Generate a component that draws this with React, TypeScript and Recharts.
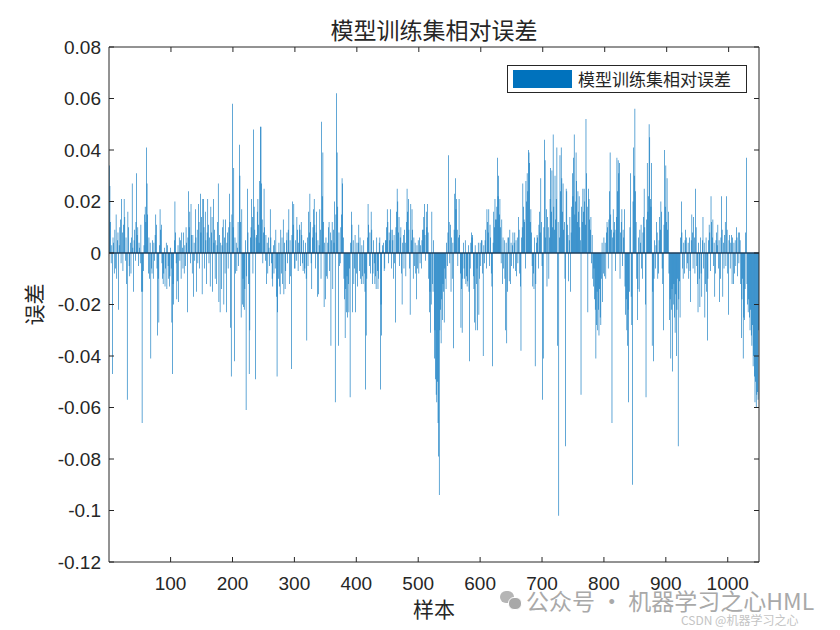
import React from "react";
import {
  BarChart,
  Bar,
  XAxis,
  YAxis,
  Legend,
  ReferenceLine,
} from "recharts";

// relative error of the training set, sample 1..1050
const relErr = [
  // 1-50
  0.034, 0.026, 0.012, -0.004, 0.003, -0.047, 0.006, 0.004, -0.008, 0.009,
  -0.006, 0.015, -0.01, 0.005, 0.008, -0.022, 0.003, 0.01, 0.013, -0.004,
  0.021, 0.008, -0.007, 0.011, 0.021, 0.014, -0.003, 0.006, -0.012, -0.057,
  0.016, 0.01, -0.005, -0.009, 0.004, -0.008, 0.006, 0.027, 0.002, -0.015,
  0.005, 0.009, -0.003, 0.012, 0.031, 0.007, 0.01, -0.005, 0.004, 0.002,
  // 51-100
  -0.004, 0.011, -0.015, -0.066, -0.015, -0.007, 0.003, 0.015, 0.018, 0.012,
  0.041, 0.027, 0.015, -0.008, 0.006, -0.01, 0.004, -0.041, -0.006, -0.008,
  0.005, -0.01, 0.004, -0.003, 0.007, 0.015, 0.011, -0.006, -0.032, -0.01,
  -0.027, 0.003, 0.017, 0.009, 0.011, -0.004, -0.01, -0.012, -0.008, 0.002,
  -0.013, -0.006, 0.004, -0.014, 0.003, -0.005, -0.01, -0.013, -0.009, 0.002,
  // 101-150
  -0.006, -0.027, -0.047, -0.012, -0.02, 0.005, 0.02, 0.008, -0.004, -0.018,
  -0.011, 0.003, -0.019, 0.006, -0.003, 0.005, -0.01, 0.008, 0.002, -0.006,
  0.008, -0.008, 0.003, -0.005, 0.01, 0.004, -0.023, 0.006, 0.024, 0.01,
  0.016, -0.004, 0.019, 0.007, -0.008, 0.007, -0.017, 0.004, -0.003, 0.017,
  0.006, -0.015, 0.009, -0.004, 0.019, 0.012, -0.006, 0.023, 0.008, 0.014,
  // 151-200
  -0.016, 0.021, 0.021, 0.01, -0.006, 0.016, 0.005, -0.012, 0.008, 0.021,
  0.011, -0.004, 0.006, -0.013, 0.018, 0.008, 0.014, -0.015, 0.021, 0.004,
  0.009, -0.01, 0.005, -0.012, 0.003, 0.012, 0.027, -0.019, 0.007, -0.023,
  0.004, -0.014, 0.003, 0.01, 0.013, -0.02, 0.006, -0.008, 0.013, -0.023,
  0.004, 0.008, -0.006, 0.01, 0.023, 0.012, -0.029, -0.048, 0.015, 0.058,
  // 201-250
  0.01, 0.033, -0.042, 0.006, -0.008, 0.004, -0.007, 0.002, 0.012, -0.005,
  0.042, 0.03, 0.012, -0.025, 0.017, -0.02, -0.01, -0.021, -0.022, -0.014,
  0.005, -0.061, -0.009, 0.025, 0.008, -0.012, -0.047, -0.03, 0.006, 0.01,
  0.021, 0.014, -0.008, 0.048, 0.018, 0.009, -0.049, 0.006, 0.007, 0.016,
  0.021, 0.011, 0.004, 0.028, 0.049, 0.049, 0.027, 0.013, -0.004, 0.008,
  // 251-300
  0.025, 0.01, -0.003, 0.007, -0.012, 0.004, -0.008, 0.006, 0.002, -0.005,
  0.017, 0.006, -0.004, -0.01, -0.013, 0.003, -0.008, 0.005, -0.006, 0.009,
  -0.017, -0.048, -0.023, -0.01, 0.004, -0.013, -0.016, 0.009, -0.008, 0.006,
  -0.012, 0.013, -0.016, 0.004, -0.014, -0.007, 0.005, 0.008, -0.004, 0.009,
  0.017, -0.012, 0.005, -0.009, -0.045, 0.007, 0.02, 0.011, 0.019, -0.006,
  // 301-350
  -0.006, 0.005, -0.003, 0.014, 0.009, -0.007, 0.004, 0.011, 0.009, -0.005,
  0.012, 0.007, -0.004, -0.007, 0.005, -0.008, -0.006, 0.004, -0.01, -0.034,
  0.006, -0.005, 0.016, 0.008, 0.023, 0.012, -0.004, -0.014, 0.006, 0.01,
  0.017, 0.021, 0.011, -0.006, 0.008, 0.016, -0.017, 0.005, -0.016, 0.003,
  0.017, 0.009, -0.01, 0.051, 0.022, 0.039, 0.012, -0.021, 0.004, -0.018,
  // 351-400
  0.006, -0.009, -0.01, 0.004, 0.01, 0.012, -0.007, 0.008, -0.036, 0.005,
  0.012, -0.014, 0.009, 0.004, 0.02, -0.058, 0.015, 0.062, 0.039, 0.018,
  -0.036, 0.008, -0.005, -0.004, 0.01, 0.015, 0.029, 0.027, 0.006, -0.01,
  -0.018, -0.033, -0.014, -0.023, -0.009, -0.025, -0.012, -0.023, -0.006, -0.056,
  0.004, 0.016, 0.011, -0.023, 0.005, -0.012, -0.006, 0.007, -0.023, -0.008,
  // 401-450
  0.004, -0.013, 0.004, 0.011, -0.007, 0.006, -0.01, -0.012, 0.003, -0.009,
  -0.012, 0.005, -0.008, -0.015, -0.053, -0.032, -0.01, 0.006, 0.019, 0.011,
  -0.005, 0.008, -0.008, 0.016, 0.009, -0.012, -0.008, 0.005, -0.004, -0.012,
  -0.009, -0.014, 0.006, -0.007, -0.014, -0.01, 0.004, 0.006, -0.053, -0.02,
  -0.032, 0.003, 0.001, 0.004, -0.007, -0.006, 0.005, 0.005, 0.01, 0.017,
  // 451-500
  0.012, -0.004, 0.008, 0.005, 0.017, 0.009, -0.006, 0.009, 0.005, -0.01,
  0.007, -0.004, -0.027, 0.01, 0.016, 0.025, 0.02, 0.008, 0.014, -0.005,
  0.006, 0.01, -0.008, -0.02, 0.004, 0.007, -0.006, 0.009, 0.004, -0.009,
  0.012, 0.025, 0.016, 0.021, 0.009, -0.006, -0.024, 0.019, 0.005, 0.017,
  0.009, -0.01, 0.006, -0.005, 0.004, -0.008, -0.018, 0.003, -0.006, 0.005,
  // 501-550
  -0.008, 0.006, -0.004, 0.003, -0.006, 0.005, 0.009, 0.009, 0.014, 0.019,
  0.007, -0.003, 0.016, 0.01, 0.019, 0.008, -0.01, -0.023, -0.015, -0.031,
  -0.02, 0.016, -0.012, -0.015, 0.005, -0.041, -0.03, -0.049, -0.055, -0.058,
  -0.05, -0.066, -0.079, -0.094, -0.03, -0.022, -0.035, -0.018, -0.026, -0.012,
  -0.015, -0.027, -0.006, -0.01, -0.014, 0.004, -0.005, 0.008, 0.038, 0.012,
  // 551-600
  -0.004, 0.011, -0.015, 0.006, -0.01, 0.004, -0.037, 0.009, 0.023, 0.029,
  0.017, 0.021, 0.009, -0.005, 0.006, 0.021, 0.007, -0.008, -0.029, -0.014,
  -0.031, -0.01, 0.004, -0.006, -0.01, 0.005, -0.012, -0.009, -0.013, -0.011,
  0.003, -0.015, -0.042, -0.006, 0.004, 0.008, 0.006, 0.007, -0.009, -0.014,
  -0.027, 0.003, -0.03, -0.012, -0.006, -0.03, 0.004, -0.024, -0.01, 0.004,
  // 601-650
  -0.005, 0.005, 0.005, -0.008, -0.04, 0.003, -0.004, 0.005, 0.009, -0.006,
  0.017, 0.012, 0.008, 0.017, -0.005, 0.011, 0.006, -0.008, -0.013, -0.044,
  0.004, 0.016, 0.01, 0.021, 0.013, 0.013, 0.018, 0.037, 0.022, 0.03,
  0.015, 0.021, 0.01, -0.004, 0.013, -0.012, 0.006, -0.006, 0.005, -0.01,
  -0.03, 0.004, -0.035, -0.015, 0.006, 0.006, -0.011, 0.009, -0.012, 0.004,
  // 651-700
  -0.005, 0.003, 0.008, -0.006, 0.004, 0.008, -0.007, 0.005, -0.009, 0.006,
  -0.004, 0.014, 0.009, -0.008, -0.013, -0.038, 0.006, 0.01, 0.027, 0.018,
  0.013, 0.012, -0.006, 0.028, 0.02, 0.031, 0.024, 0.04, 0.039, 0.035,
  0.012, 0.017, 0.008, -0.005, -0.013, -0.008, -0.014, 0.006, -0.044, -0.012,
  0.004, 0.007, 0.006, -0.006, 0.011, 0.016, 0.008, 0.029, 0.012, -0.005,
  // 701-750
  -0.057, -0.041, 0.01, 0.044, 0.036, 0.006, 0.017, -0.013, 0.014, 0.01,
  -0.01, 0.006, 0.021, 0.033, 0.016, 0.032, 0.01, 0.046, 0.018, 0.009,
  0.03, 0.013, 0.021, 0.041, -0.036, 0.012, -0.102, 0.006, 0.038, 0.024,
  0.041, 0.029, 0.016, 0.027, 0.009, 0.012, -0.01, -0.075, 0.025, 0.024,
  0.011, 0.007, -0.011, 0.005, 0.014, -0.015, 0.008, 0.018, 0.031, 0.022,
  // 751-800
  0.037, 0.046, 0.015, 0.02, 0.039, 0.028, 0.012, 0.024, 0.016, 0.022,
  0.01, 0.005, -0.055, 0.018, 0.012, 0.025, 0.016, 0.025, 0.02, 0.011,
  0.052, 0.031, 0.018, -0.023, 0.025, 0.021, 0.013, 0.009, 0.014, -0.004,
  0.007, -0.01, -0.013, -0.006, -0.018, -0.022, -0.041, -0.028, -0.015, -0.03,
  -0.022, -0.032, -0.014, -0.025, -0.028, -0.01, 0.004, -0.019, -0.008, 0.006,
  // 801-850
  -0.009, 0.004, -0.01, 0.008, 0.012, 0.01, -0.006, 0.013, 0.024, 0.039,
  0.015, 0.009, -0.066, 0.006, 0.017, 0.008, 0.012, 0.009, -0.007, 0.014,
  0.037, 0.024, 0.036, 0.031, 0.035, -0.01, 0.008, 0.012, 0.017, -0.005,
  0.009, 0.006, 0.017, -0.013, -0.024, -0.018, -0.03, -0.036, -0.022, -0.058,
  -0.015, 0.01, 0.031, -0.017, -0.028, -0.09, 0.02, 0.041, 0.03, 0.056,
  // 851-900
  0.024, 0.012, -0.01, -0.026, -0.014, 0.006, -0.015, 0.009, 0.004, 0.011,
  -0.006, -0.01, 0.008, 0.014, 0.025, 0.01, -0.02, -0.056, 0.013, 0.035,
  0.016, 0.022, 0.05, 0.045, 0.021, 0.018, 0.035, -0.036, -0.015, -0.042,
  -0.01, 0.005, -0.006, 0.003, 0.012, 0.008, -0.01, -0.008, 0.005, 0.014,
  0.009, 0.02, 0.016, -0.006, -0.012, -0.03, 0.011, 0.04, 0.018, 0.034,
  // 901-950
  0.012, 0.029, 0.009, 0.016, -0.008, -0.026, -0.018, -0.041, -0.022, -0.014,
  -0.046, -0.02, -0.012, -0.025, -0.031, -0.016, -0.04, -0.022, -0.01, -0.075,
  -0.018, -0.011, -0.025, 0.006, 0.02, 0.008, -0.006, -0.01, 0.004, -0.008,
  0.005, 0.009, 0.006, -0.006, -0.004, 0.004, -0.01, 0.006, -0.007, -0.019,
  0.005, 0.015, 0.008, -0.006, 0.014, 0.006, -0.008, 0.025, 0.01, -0.005,
  // 951-1000
  -0.012, -0.023, 0.004, -0.01, -0.021, 0.006, -0.008, -0.017, 0.005, 0.014,
  -0.006, 0.004, -0.025, -0.012, 0.006, -0.015, -0.034, -0.01, 0.005, 0.011,
  0.008, -0.007, 0.022, 0.012, 0.006, 0.013, -0.005, 0.004, -0.017, -0.008,
  0.005, 0.008, 0.003, 0.011, -0.006, 0.005, -0.019, -0.01, 0.006, 0.022,
  0.009, -0.017, 0.004, -0.006, 0.007, 0.012, -0.005, 0.022, 0.009, -0.008,
  // 1001-1050
  -0.024, 0.005, 0.007, -0.006, 0.004, 0.007, -0.012, 0.006, -0.012, 0.004,
  -0.008, 0.005, -0.005, 0.01, 0.006, -0.009, 0.008, -0.004, 0.008, 0.005,
  -0.012, -0.033, -0.018, -0.01, -0.041, -0.025, -0.026, -0.014, 0.008, 0.037,
  -0.012, -0.02, -0.023, -0.018, -0.025, -0.03, -0.022, -0.032, -0.036, -0.028,
  -0.044, -0.04, -0.048, -0.058, -0.05, -0.06, -0.055, -0.054, -0.057, -0.03,
];

const samples = relErr.map((_, i) => i + 1);

const xTicks = [100, 200, 300, 400, 500, 600, 700, 800, 900, 1000];
const yTicks = [-0.12, -0.1, -0.08, -0.06, -0.04, -0.02, 0, 0.02, 0.04, 0.06, 0.08];

const TITLE = "模型训练集相对误差";
const X_LABEL = "样本";
const Y_LABEL = "误差";

const data = samples.map((s, i) => ({ sample: s, err: relErr[i] }));

const AXIS = "#262626";
const BLUE = "#0072BD";
const CJK = '"Noto Sans CJK SC", "Noto Sans", sans-serif';
const NUM = '"Liberation Sans", Arial, sans-serif';

const fmtY = (v: number) => String(Number(v.toFixed(2)));
const blank = () => "";

function LegendBox() {
  return (
    <div
      style={{
        width: 240,
        height: 28,
        boxSizing: "border-box",
        border: `1px solid ${AXIS}`,
        background: "#fff",
        display: "flex",
        alignItems: "center",
        paddingLeft: 5,
      }}
    >
      <div style={{ width: 59, height: 18, background: BLUE }} />
      <span style={{ marginLeft: 6, fontFamily: CJK, fontSize: 17, color: AXIS, lineHeight: "18px" }}>
        {TITLE}
      </span>
    </div>
  );
}

export default function App() {
  return (
    <div style={{ position: "absolute", left: 0, top: 0, width: 840, height: 630, background: "#fff" }}>
      <div
        style={{
          position: "absolute",
          left: 109,
          width: 650,
          top: 14,
          textAlign: "center",
          fontFamily: CJK,
          fontSize: 23,
          color: AXIS,
          lineHeight: "30px",
        }}
      >
        {TITLE}
      </div>

      <BarChart
        width={840}
        height={630}
        data={data}
        margin={{ top: 46, right: 80, bottom: 10, left: 49 }}
        barCategoryGap={0}
        barGap={0}
      >
        <XAxis
          dataKey="sample"
          type="category"
          ticks={xTicks}
          interval={0}
          height={30}
          tickSize={-5}
          tickMargin={20}
          axisLine={{ stroke: AXIS }}
          tickLine={{ stroke: AXIS }}
          tick={{ fill: AXIS, fontSize: 19, fontFamily: NUM }}
          label={{ value: X_LABEL, position: "bottom", offset: 10, fill: AXIS, fontSize: 21, fontFamily: CJK }}
        />
        <XAxis
          xAxisId="top"
          orientation="top"
          type="number"
          domain={[0.5, 1050.5]}
          allowDataOverflow
          ticks={xTicks}
          interval={0}
          height={1}
          tickSize={-5}
          tickFormatter={blank}
          axisLine={{ stroke: AXIS }}
          tickLine={{ stroke: AXIS }}
        />
        <YAxis
          type="number"
          domain={[-0.12, 0.08]}
          allowDataOverflow
          ticks={yTicks}
          interval={0}
          width={60}
          tickSize={-5}
          tickMargin={13}
          tickFormatter={fmtY}
          axisLine={{ stroke: AXIS }}
          tickLine={{ stroke: AXIS }}
          tick={{ fill: AXIS, fontSize: 19, fontFamily: NUM }}
          label={{
            value: Y_LABEL,
            angle: -90,
            position: "insideLeft",
            offset: -14,
            fill: AXIS,
            fontSize: 21,
            fontFamily: CJK,
            style: { textAnchor: "middle" },
          }}
        />
        <YAxis
          yAxisId="right"
          orientation="right"
          type="number"
          domain={[-0.12, 0.08]}
          allowDataOverflow
          ticks={yTicks}
          interval={0}
          width={1}
          tickSize={-5}
          tickFormatter={blank}
          axisLine={{ stroke: AXIS }}
          tickLine={{ stroke: AXIS }}
        />
        <Legend
          content={() => <LegendBox />}
          wrapperStyle={{ position: "absolute", left: 507, top: 65, width: 240, height: 28 }}
        />
        <Bar dataKey="err" name={TITLE} fill={BLUE} isAnimationActive={false} />
        <ReferenceLine y={0} stroke="#1d3c5a" strokeWidth={1.5} />
      </BarChart>

      {/* watermark */}
      <div style={{ position: "absolute", left: 500, top: 591, width: 20, height: 18 }}>
        <div style={{ position: "absolute", left: 0, top: 0, width: 14, height: 12, borderRadius: 7, background: "#b5b5b5" }} />
        <div style={{ position: "absolute", left: 8, top: 6, width: 12, height: 11, borderRadius: 6, background: "#a8a8a8", border: "1px solid #fff" }} />
      </div>
      <div
        style={{
          position: "absolute",
          left: 526,
          top: 587,
          fontFamily: CJK,
          fontSize: 23,
          color: "#a9a9a9",
          lineHeight: "26px",
          whiteSpace: "nowrap",
        }}
      >
        公众号 · 机器学习之心HML
      </div>
      <div
        style={{
          position: "absolute",
          left: 681,
          top: 612,
          fontFamily: CJK,
          fontSize: 12,
          color: "#c4c4c4",
          lineHeight: "16px",
          whiteSpace: "nowrap",
        }}
      >
        CSDN @机器学习之心
      </div>
    </div>
  );
}
